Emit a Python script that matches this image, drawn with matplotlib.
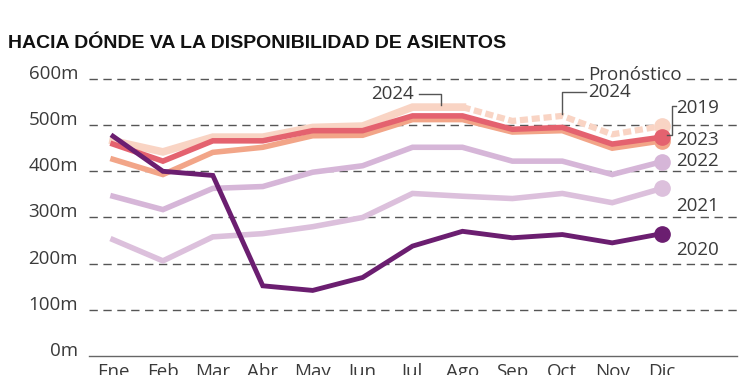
import matplotlib
matplotlib.use("Agg")
import matplotlib.pyplot as plt
import numpy as np
from matplotlib import font_manager

MONTHS = ["Ene", "Feb", "Mar", "Abr", "May", "Jun", "Jul", "Ago", "Sep", "Oct", "Nov", "Dic"]

# seats available, millions
Y2019 = [459, 422, 466, 466, 488, 488, 520, 520, 491, 495, 459, 474]
Y2020 = [476, 400, 391, 152, 142, 170, 238, 270, 256, 263, 245, 265]
Y2021 = [252, 206, 258, 265, 280, 300, 352, 346, 341, 352, 332, 363]
Y2022 = [346, 317, 363, 367, 398, 412, 452, 452, 422, 422, 393, 421]
Y2023 = [426, 393, 441, 452, 477, 478, 512, 512, 485, 488, 450, 466]
Y2024 = [466, 442, 474, 474, 495, 498, 539, 539]
Y2024_FORECAST = [539, 509, 520, 480, 498]

YTICKS = [0, 100, 200, 300, 400, 500, 600]

names = {f.name for f in font_manager.fontManager.ttflist}
narrow = "Liberation Sans Narrow" if "Liberation Sans Narrow" in names else "Liberation Sans"
light = ["Open Sans", "DejaVu Sans"]

C2019 = "#e4626f"
C2020 = "#6b1e70"
C2021 = "#dcc0dc"
C2022 = "#d6b6d8"
C2023 = "#f2a588"
C2024 = "#f9d4c4"
TXT = "#3a3a3a"
FS = 13.5

fig = plt.figure(figsize=(7.5, 3.75), dpi=100)
ax = fig.add_axes([0.1187, 0.0507, 0.864, 0.7757])

x = np.arange(len(MONTHS))
ax.set_xlim(-0.48, 12.5)
ax.set_ylim(0, 630)

# dashed grid
for v in YTICKS[1:]:
    ax.plot([-0.48, 12.5], [v, v], color="#555555", lw=1.0, dashes=(6, 4), zorder=1)
ax.plot([-0.48, 12.5], [0, 0], color="#666666", lw=1.0, zorder=1, clip_on=False)

lw = 4
ax.plot(x, Y2021, color=C2021, lw=lw, zorder=2, solid_joinstyle="miter")
ax.plot(x, Y2022, color=C2022, lw=lw, zorder=2, solid_joinstyle="miter")
ax.plot(x[:len(Y2024)], Y2024, color=C2024, lw=5.5, zorder=3, solid_joinstyle="miter")
ax.plot(x[7:], Y2024_FORECAST, color=C2024, lw=4.5, zorder=3, linestyle=(0, (1.3, 0.6)),
        dash_capstyle="butt")
ax.plot(x, Y2023, color=C2023, lw=lw, zorder=4, solid_joinstyle="miter")
ax.plot(x, Y2019, color=C2019, lw=lw, zorder=5, solid_joinstyle="miter")
ax.plot(x, Y2020, color=C2020, lw=3.5, zorder=6, solid_joinstyle="miter")

# end markers
ms = 11
ax.plot(x[-1], Y2024_FORECAST[-1], "o", color=C2024, ms=ms, zorder=3)
ax.plot(x[-1], Y2023[-1], "o", color=C2023, ms=ms, zorder=4)
ax.plot(x[-1], Y2019[-1], "o", color=C2019, ms=ms, zorder=5)
ax.plot(x[-1], Y2022[-1], "o", color=C2022, ms=ms, zorder=2)
ax.plot(x[-1], Y2021[-1], "o", color=C2021, ms=ms, zorder=2)
ax.plot(x[-1], Y2020[-1], "o", color=C2020, ms=ms, zorder=6)

for s in ax.spines.values():
    s.set_visible(False)
ax.set_yticks([])
ax.set_xticks(x)
ax.set_xticklabels(MONTHS, family=light, fontsize=FS, color=TXT)
ax.tick_params(axis="x", length=0, pad=5)

for v in YTICKS:
    ax.text(-0.7, v, f"{v}m", ha="right", va="baseline", fontsize=FS,
            family=light, color=TXT, clip_on=False)

# series labels
lab = dict(fontsize=FS, family=light, color=TXT, va="center", ha="left")
ax.text(11.28, 537, "2019", **lab)
ax.text(11.28, 468, "2023", **lab)
ax.text(11.28, 422, "2022", **lab)
ax.text(11.28, 325, "2021", **lab)
ax.text(11.28, 230, "2020", **lab)
ax.plot([11.27, 11.2, 11.2, 11.1], [542, 542, 478, 478], color="#555555", lw=1, zorder=7)

# 2024 callout
ax.text(5.18, 567, "2024", **lab)
ax.plot([6.13, 6.57, 6.57], [567, 567, 543], color="#555555", lw=1, zorder=7)

# forecast callout
ax.text(9.52, 609, "Pronóstico", fontsize=FS, family=light, color=TXT, va="center",
        ha="left", bbox=dict(facecolor="white", edgecolor="none", pad=1))
ax.text(9.52, 571, "2024", **lab)
ax.plot([9.47, 9.0, 9.0], [571, 571, 524], color="#555555", lw=1, zorder=7)

fig.text(0.011, 0.873, "HACIA DÓNDE VA LA DISPONIBILIDAD DE ASIENTOS", fontsize=14,
         fontweight="bold", family=narrow, color="#111111", va="baseline")

fig.savefig("out.png", dpi=100)
